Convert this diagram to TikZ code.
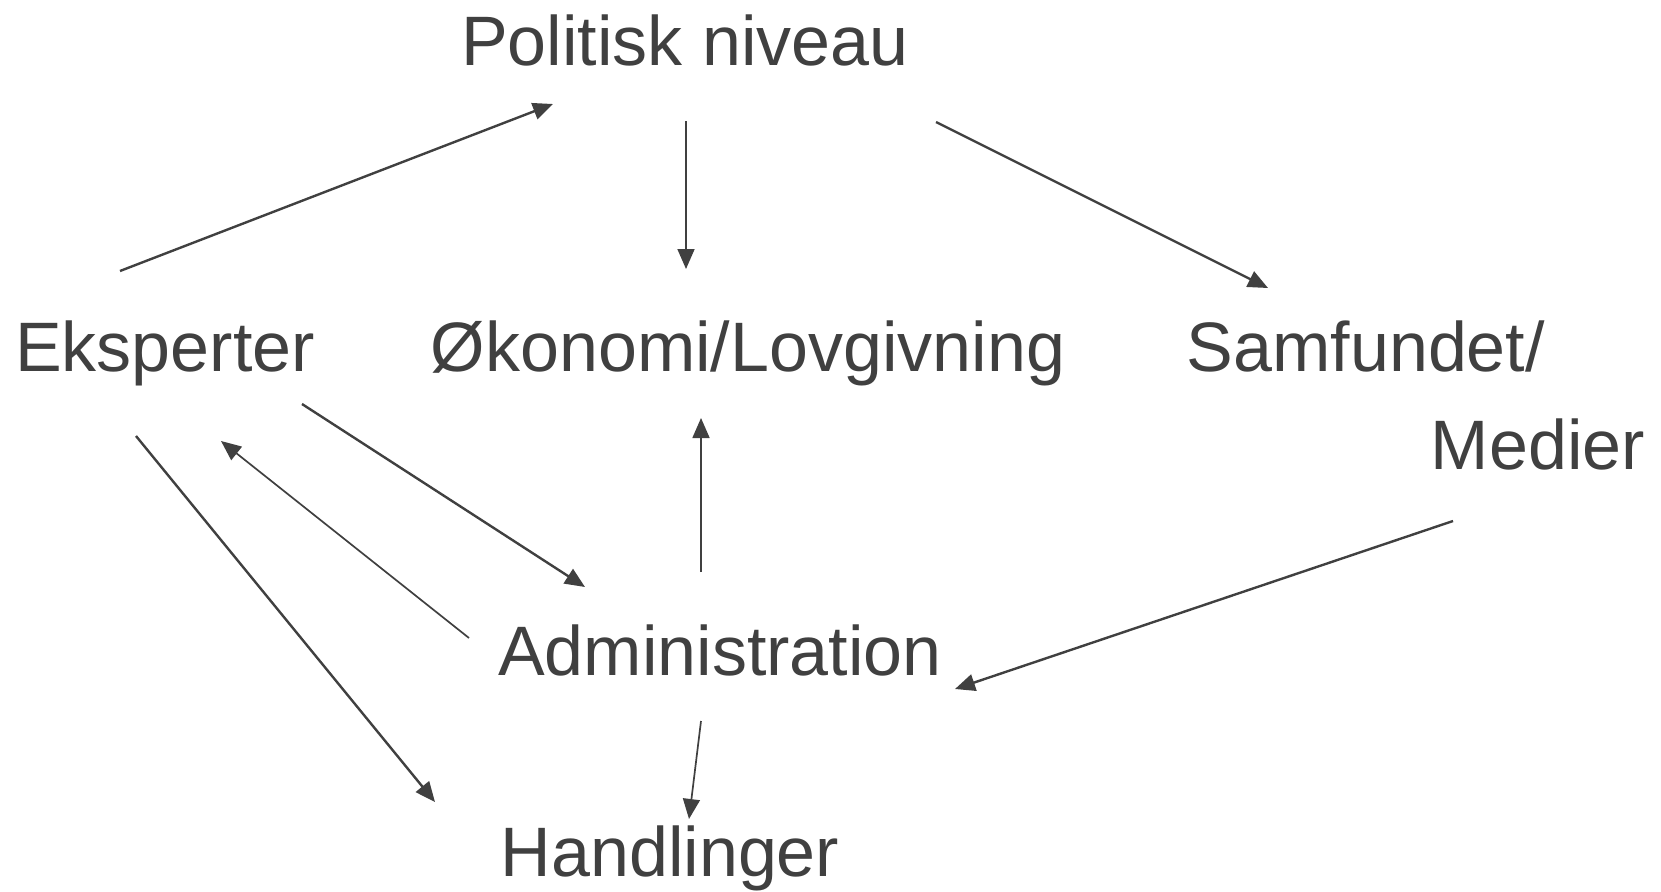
\documentclass[tikz,border=0pt]{standalone}
\usepackage{fontspec}
\setmainfont{Liberation Sans}
\usetikzlibrary{arrows.meta}
\definecolor{ink}{HTML}{404040}
\tikzset{
  lbl/.style={inner sep=0pt, text=ink, font=\fontsize{70}{84}\selectfont, anchor=base},
  thick arrow/.style={draw=ink, line width=2.4pt, -{Triangle[length=20pt,width=17pt]}},
  thin arrow/.style={draw=ink, line width=1.7pt, -{Triangle[length=20pt,width=17pt]}},
}
\begin{document}
\begin{tikzpicture}[x=1pt,y=-1pt]
\path[use as bounding box] (0,0) rectangle (1661,891);
\node[lbl] (pol) at (685,66) {Politisk niveau};
\node[lbl] (eks) at (165,371) {Eksperter};
\node[lbl] (oko) at (748,371) {Økonomi/Lovgivning};
\node[lbl, anchor=base east] (sam) at (1545,371) {Samfundet/};
\node[lbl, anchor=base east] (med) at (1645,469) {Medier};
\node[lbl] (adm) at (720,675) {Administration};
\node[lbl] (han) at (670,876) {Handlinger};
% connector end points
\coordinate (eksA) at (120,271);  \coordinate (polA) at (553,104);
\coordinate (polB) at (686,121);  \coordinate (okoB) at (686,269);
\coordinate (polC) at (936,122);  \coordinate (samC) at (1268,288);
\coordinate (eksD) at (302,404);  \coordinate (admD) at (585,587);
\coordinate (admE) at (469,638);  \coordinate (eksE) at (221,441);
\coordinate (eksF) at (136,436);  \coordinate (hanF) at (435,802);
\coordinate (admG) at (701,572);  \coordinate (okoG) at (701,418);
\coordinate (medH) at (1453,521); \coordinate (admH) at (955,689);
\coordinate (admI) at (701,721);  \coordinate (hanI) at (689,819);
\draw[thick arrow] (eksA) -- (polA);
\draw[thin arrow] (polB) -- (okoB);
\draw[thick arrow] (polC) -- (samC);
\draw[thick arrow] (eksD) -- (admD);
\draw[thin arrow] (admE) -- (eksE);
\draw[thick arrow] (eksF) -- (hanF);
\draw[thin arrow] (admG) -- (okoG);
\draw[thick arrow] (medH) -- (admH);
\draw[thin arrow] (admI) -- (hanI);
\end{tikzpicture}
\end{document}
